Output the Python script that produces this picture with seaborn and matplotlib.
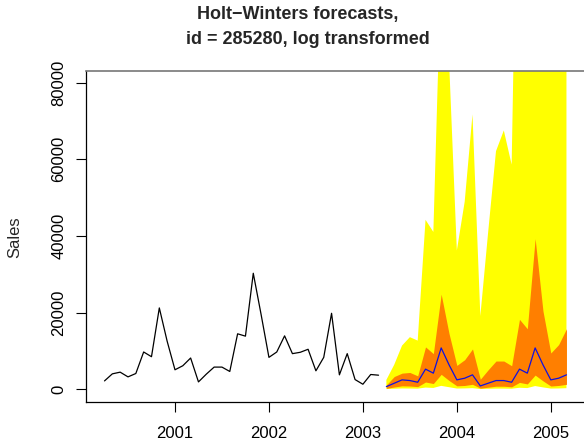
import numpy as np
import pandas as pd
import matplotlib
matplotlib.use("Agg")
import matplotlib.pyplot as plt
import seaborn as sns

# Monthly sales, April 2000 - March 2003
history_start = 2000 + 3 / 12
sales = [2190, 4030, 4470, 3240, 4120, 9730, 8500, 21220, 12540, 5090, 6140, 8160,
         1930, 3950, 5790, 5790, 4650, 14470, 13860, 30260, 19500, 8330, 9730, 13940,
         9300, 9650, 10440, 4820, 8330, 19820, 3770, 9300, 2540, 1320, 3860, 3680]

# Holt-Winters forecast (back-transformed from log scale), April 2003 - March 2005
forecast_start = 2003 + 3 / 12
fc_mean = [700, 1580, 2460, 2280, 1840, 5260, 4210, 10790, 6400, 2460, 2890, 3770,
           880, 1580, 2280, 2280, 1840, 5260, 4210, 10790, 6400, 2460, 2890, 3770]
fc_lo80 = [250, 600, 900, 850, 700, 1900, 1500, 3900, 2300, 900, 1000, 1300,
           300, 550, 800, 800, 650, 1800, 1400, 3700, 2200, 850, 1000, 1300]
fc_hi80 = [1140, 3330, 4210, 4390, 3510, 11050, 9300, 24800, 14560, 6230, 7720, 10520,
           2630, 5090, 7370, 7370, 6140, 18240, 15790, 39290, 20430, 9470, 11660, 15790]
fc_lo95 = [60, 150, 220, 200, 170, 450, 350, 900, 550, 200, 230, 300,
           70, 130, 180, 180, 150, 400, 320, 850, 500, 190, 220, 290]
fc_hi95 = [2460, 6400, 11400, 13600, 12700, 44200, 41040, 111000, 86000, 36200, 48900, 71700,
           19100, 41000, 62100, 67500, 58600, 173000, 150000, 210000, 240000, 160000, 130000, 120000]

year_ticks = [2001, 2002, 2003, 2004, 2005]
sales_ticks = [0, 20000, 40000, 60000, 80000]

hist = pd.DataFrame({"time": history_start + np.arange(len(sales)) / 12, "Sales": sales})
fc = pd.DataFrame({"time": forecast_start + np.arange(len(fc_mean)) / 12,
                   "mean": fc_mean, "lo80": fc_lo80, "hi80": fc_hi80,
                   "lo95": fc_lo95, "hi95": fc_hi95})

sns.set_style("white")
plt.rcParams["font.family"] = ["Liberation Sans", "DejaVu Sans"]

fig = plt.figure(figsize=(5.84, 4.42), dpi=100)
ax = fig.add_axes([86 / 584, 40.3 / 442, 499 / 584, 330.7 / 442])

ax.fill_between(fc["time"], fc["lo95"], fc["hi95"], color="#FFFF00", linewidth=0, zorder=1)
ax.fill_between(fc["time"], fc["lo80"], fc["hi80"], color="#FF7F00", linewidth=0, zorder=2)
sns.lineplot(data=fc, x="time", y="mean", ax=ax, color="#1010E0", linewidth=0.9, zorder=3)
sns.lineplot(data=hist, x="time", y="Sales", ax=ax, color="black", linewidth=0.9, zorder=3)

ax.set_xlim(2000.053, 2005.364)
ax.set_ylim(-3233, 83000)
ax.set_xticks(year_ticks)
ax.set_xticklabels([str(y) for y in year_ticks])
ax.set_yticks(sales_ticks)
ax.set_yticklabels([str(v) for v in sales_ticks], rotation=90, va="center")
ax.tick_params(axis="both", direction="out", length=7.5, width=0.8, color="black",
               labelsize=12, labelcolor="black", left=True, bottom=True)
ax.tick_params(axis="x", pad=10)
ax.tick_params(axis="y", pad=6.5)

for side in ["left", "bottom", "right"]:
    ax.spines[side].set_color("black")
    ax.spines[side].set_linewidth(0.9)
ax.spines["top"].set_color("#777777")
ax.spines["top"].set_linewidth(1.2)

ax.set_xlabel("")
ax.set_ylabel("Sales", fontsize=12)
ax.yaxis.set_label_coords(-0.128, 0.497)

fig.text(298 / 584, 1 - 15 / 442, "Holt\u2212Winters forecasts,", ha="center", va="center",
         fontsize=13, fontweight="bold")
fig.text(307.5 / 584, 1 - 40 / 442, "id = 285280, log transformed", ha="center", va="center",
         fontsize=13, fontweight="bold")

fig.savefig("out.png", dpi=100)
